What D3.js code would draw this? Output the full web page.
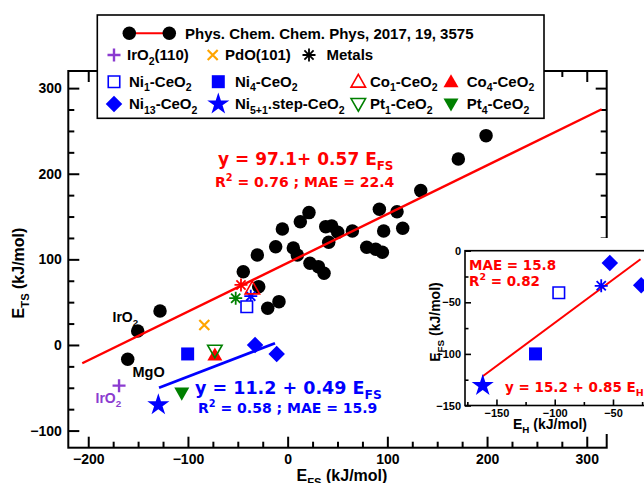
<!DOCTYPE html>
<html>
<head>
<meta charset="utf-8">
<title>E_TS vs E_FS</title>
<style>
body { margin: 0; background: #fff; }
svg { display: block; }
text { font-family: "Liberation Sans", Arial, sans-serif; font-weight: bold; }
text.eq { font-family: "DejaVu Sans", Verdana, sans-serif; }
</style>
<script src="https://d3js.org/d3.v7.min.js"></script>
</head>
<body>
<svg id="chart" width="644" height="483"></svg>
<script>
// ---- data: main plot (E_FS, E_TS in kJ/mol) ----
// PCCP 2017, 19, 3575 reference points
const refFs = [199, 171.2, 133.5, 92, 109.7, 115.4, 96.3, 64.9, 50.2, 44.2, 38.2, 41.2, 21.4, 12.7,
               -5.3, -12, 5.7, 9.7, 22.4, 30.8, 36.5, 79.3, 88.3, 95, -30.4, -44.5, -29, -8.7, -20,
               -128, -150.4, -160.4];
const refTs = [244.5, 217.3, 180.3, 158.5, 155.7, 136.3, 133.2, 133.2, 131.7, 139, 138.2, 120, 154.6, 144,
               135.5, 114.8, 113.3, 105.1, 95.4, 91.5, 83.8, 114.1, 111.8, 108.3, 105.1, 85.6, 68.1, 50.6, 42.9,
               39.7, 16.4, -16.7];

const iro2Fs = [-169.1],  iro2Ts = [-47.5];
const pdoFs = [-83.6],    pdoTs = [23.4];
const metalFs = [-37, -46.8, -52.1];
const metalTs = [57, 70.1, 54.6];
const metalColors = ["#0000ff", "#ff0000", "#008000"];
const ni1Fs = [-41],      ni1Ts = [44.7];
const ni4Fs = [-100.3],   ni4Ts = [-10.5];
const ni13Fs = [-32.7, -11], ni13Ts = [0, -10.5];
const ni51Fs = [-129.7],  ni51Ts = [-70];
const co1Fs = [-35.4],    co1Ts = [66];
const co4Fs = [-73],      co4Ts = [-11.7];
const pt1Fs = [-73],      pt1Ts = [-6.7];
const pt4Fs = [-106.2],   pt4Ts = [-56.4];

// fitted lines (end points)
const refFitFs = [-206, 315],  refFitTs = [-21.4, 275.3];
const blueFitFs = [-129, -12.7], blueFitTs = [-49.9, 2.0];

// ---- data: inset (E_H, E_FS) ----
const inStarH = [-161.8], inStarFs = [-130.8];
const inSqH = [-116.5],   inSqFs = [-100];
const inOpenH = [-96.5],  inOpenFs = [-40.7];
const inAstH = [-60.1],   inAstFs = [-34];
const inDiaH = [-52.7, -25.8], inDiaFs = [-12, -33.5];
const inFitH = [-161.8, -26.4], inFitFs = [-121.7, -8.3];

const xTicks = [-200, -100, 0, 100, 200, 300];
const yTicks = [-100, 0, 100, 200, 300];
const inXTicks = [-150, -100, -50];
const inYTicks = [-150, -100, -50, 0];

const RED = "#ff0000", BLUE = "#0000ff", GREEN = "#008000", PURPLE = "#8b3bd0", ORANGE = "#ffa500";

const svg = d3.select("#chart");

// ---------- helpers ----------
// text with _{sub} and ^{sup} parts
function rich(sel, x, y, str, size, color, cls) {
    const t = sel.append("text").attr("x", x).attr("y", y)
        .attr("font-size", size).attr("fill", color || "#000");
    if (cls) t.attr("class", cls);
    const re = /([_^])\{([^}]*)\}/g;
    let last = 0, m, shift = 0;
    const parts = [];
    while ((m = re.exec(str)) !== null) {
        if (m.index > last) parts.push([str.slice(last, m.index), 0]);
        parts.push([m[2], m[1] === "_" ? 1 : -1]);
        last = re.lastIndex;
    }
    if (last < str.length) parts.push([str.slice(last), 0]);
    parts.forEach(([s, k]) => {
        const target = k === 1 ? size * 0.3 : k === -1 ? -size * 0.4 : 0;
        t.append("tspan").attr("dy", target - shift)
            .attr("font-size", k ? size * 0.7 : size).text(s);
        shift = target;
    });
    return t;
}

function shapePath(shape, s) {
    const h = s / 2;
    switch (shape) {
        case "plus": return `M${-h},0H${h}M0,${-h}V${h}`;
        case "times": return `M${-h},${-h}L${h},${h}M${-h},${h}L${h},${-h}`;
        case "asterisk": {
            const d = h * 0.7071;
            return `M${-h},0H${h}M0,${-h}V${h}M${-d},${-d}L${d},${d}M${-d},${d}L${d},${-d}`;
        }
        case "square": return `M${-h},${-h}H${h}V${h}H${-h}Z`;
        case "diamond": return `M0,${-h}L${h},0L0,${h}L${-h},0Z`;
        case "triUp": return `M0,${-h}L${h},${h * 0.75}L${-h},${h * 0.75}Z`;
        case "triDown": return `M0,${h}L${h},${-h * 0.75}L${-h},${-h * 0.75}Z`;
        case "star": return d3.symbol(d3.symbolStar, s * s * 0.42)();
    }
}

const styles = {
    ref:   { shape: "dot", size: 13.5, fill: "#000" },
    iro2:  { shape: "plus", size: 13, stroke: PURPLE, sw: 2.4 },
    pdo:   { shape: "times", size: 10, stroke: ORANGE, sw: 2.2 },
    metal: { shape: "asterisk", size: 13, stroke: "#000", sw: 1.8 },
    ni1:   { shape: "square", size: 11.5, fill: "#fff", stroke: BLUE, sw: 1.6 },
    ni4:   { shape: "square", size: 13, fill: BLUE },
    ni13:  { shape: "diamond", size: 16.5, fill: BLUE },
    ni51:  { shape: "star", size: 19, fill: BLUE },
    co1:   { shape: "triUp", size: 14.5, fill: "none", stroke: RED, sw: 1.6 },
    co4:   { shape: "triUp", size: 15, fill: RED },
    pt1:   { shape: "triDown", size: 14.5, fill: "none", stroke: GREEN, sw: 1.6 },
    pt4:   { shape: "triDown", size: 15, fill: GREEN }
};

function mark(g, st, cx, cy, color) {
    if (st.shape === "dot") {
        g.append("circle").attr("cx", cx).attr("cy", cy).attr("r", st.size / 2).attr("fill", st.fill);
        return;
    }
    g.append("path").attr("transform", `translate(${cx},${cy})`)
        .attr("d", shapePath(st.shape, st.size))
        .attr("fill", st.fill || "none")
        .attr("stroke", color || st.stroke || "none")
        .attr("stroke-width", st.sw || 0);
}

const minorOf = (lo, hi, step, majors) => d3.range(lo, hi + 0.01, step).filter(v => !majors.includes(v));

// box frame with inward ticks (optionally mirrored on top/right)
function frame(g, xs, ys, xt, yt, xm, ym, o) {
    const [x0, x1] = xs.range(), [y0, y1] = ys.range();
    const defs = [
        [d3.axisBottom, xs, `translate(0,${y0})`, xt, xm, true],
        [d3.axisTop, xs, `translate(0,${y1})`, xt, xm, false],
        [d3.axisLeft, ys, `translate(${x0},0)`, yt, ym, true],
        [d3.axisRight, ys, `translate(${x1},0)`, yt, ym, false]
    ];
    defs.forEach(([fn, sc, tr, maj, mnr, lab]) => {
        if (!lab && !o.mirror) return;
        const a = g.append("g").attr("transform", tr).call(
            fn(sc).tickValues(maj).tickSize(-o.major).tickSizeOuter(0).tickPadding(o.pad)
                .tickFormat(lab ? d3.format("d") : ""));
        g.append("g").attr("transform", tr).call(
            fn(sc).tickValues(mnr).tickSize(-o.minor).tickSizeOuter(0).tickFormat(""));
        a.selectAll("text").attr("font-size", o.font).attr("fill", "#000")
            .attr("font-family", "'Liberation Sans', Arial, sans-serif").attr("font-weight", "bold");
    });
    g.selectAll(".domain").remove();
    g.selectAll(".tick line").attr("stroke", "#000").attr("stroke-width", o.sw);
    g.append("rect").attr("x", x0).attr("y", y1).attr("width", x1 - x0).attr("height", y0 - y1)
        .attr("fill", "none").attr("stroke", "#000").attr("stroke-width", o.sw);
}

// ---------- main plot ----------
const x = d3.scaleLinear([-220, 320], [68.3, 606.7]);
const y = d3.scaleLinear([-120, 320], [447.7, 71]);
const main = svg.append("g");

frame(main, x, y, xTicks, yTicks,
      minorOf(-200, 320, 25, xTicks), minorOf(-100, 320, 25, yTicks),
      { major: 11, minor: 6, pad: 6.5, font: 14, sw: 2, mirror: true });

rich(main, 342, 481, "E_{FS} (kJ/mol)", 16).attr("text-anchor", "middle");
rich(main, 0, 0, "E_{TS} (kJ/mol)", 16).attr("text-anchor", "middle")
    .attr("transform", "translate(24,273) rotate(-90)");

// reference dots
refFs.forEach((v, i) => mark(main, styles.ref, x(v), y(refTs[i])));

// fit lines
const line = d3.line().x(d => x(d[0])).y(d => y(d[1]));
main.append("path").attr("d", line(d3.zip(refFitFs, refFitTs)))
    .attr("stroke", RED).attr("stroke-width", 2.4).attr("fill", "none");
main.append("path").attr("d", line(d3.zip(blueFitFs, blueFitTs)))
    .attr("stroke", BLUE).attr("stroke-width", 2.8).attr("fill", "none");

// other series
const series = [
    [metalFs, metalTs, styles.metal, metalColors],
    [iro2Fs, iro2Ts, styles.iro2],
    [pdoFs, pdoTs, styles.pdo],
    [ni1Fs, ni1Ts, styles.ni1],
    [ni4Fs, ni4Ts, styles.ni4],
    [ni13Fs, ni13Ts, styles.ni13],
    [ni51Fs, ni51Ts, styles.ni51],
    [co4Fs, co4Ts, styles.co4],
    [pt1Fs, pt1Ts, styles.pt1],
    [co1Fs, co1Ts, styles.co1],
    [pt4Fs, pt4Ts, styles.pt4]
];
series.forEach(([xs, ys, st, cols]) =>
    xs.forEach((v, i) => mark(main, st, x(v), y(ys[i]), cols ? cols[i] : null)));

// point labels
rich(main, 112.5, 321.5, "IrO_{2}", 14);
rich(main, 132.5, 376.5, "MgO", 14.5);
rich(main, 95.5, 403, "IrO_{2}", 14, PURPLE);

// equations
rich(main, 218, 164.5, "y = 97.1+ 0.57 E_{FS}", 17, RED, "eq");
rich(main, 215, 186.5, "R^{2} = 0.76 ; MAE = 22.4", 14, RED, "eq");
rich(main, 195, 394, "y = 11.2 + 0.49 E_{FS}", 17.5, BLUE, "eq");
rich(main, 198, 412.5, "R^{2} = 0.58 ; MAE = 15.9", 14, BLUE, "eq");

// ---------- legend ----------
const leg = svg.append("g");
leg.append("rect").attr("x", 97.3).attr("y", 15).attr("width", 446.7).attr("height", 103.3)
    .attr("fill", "#fff").attr("stroke", "#000").attr("stroke-width", 1.6);
leg.append("line").attr("x1", 129.3).attr("x2", 169.3).attr("y1", 33.3).attr("y2", 33.3)
    .attr("stroke", RED).attr("stroke-width", 2);
mark(leg, styles.ref, 129.3, 33.3);
mark(leg, styles.ref, 169.3, 33.3);
rich(leg, 185, 38.5, "Phys. Chem. Chem. Phys, 2017, 19, 3575", 15);

const legendItems = [
    [styles.iro2, 114, 55, 127, "IrO_{2}(110)"],
    [styles.pdo, 212.7, 55, 225, "PdO(101)"],
    [styles.metal, 309, 55, 326.5, "Metals"],
    [styles.ni1, 114, 81.7, 129, "Ni_{1}-CeO_{2}"],
    [styles.ni4, 218.3, 81.7, 235, "Ni_{4}-CeO_{2}"],
    [styles.co1, 358.3, 81.7, 370, "Co_{1}-CeO_{2}"],
    [styles.co4, 451, 81.7, 466.7, "Co_{4}-CeO_{2}"],
    [styles.ni13, 114, 104, 129, "Ni_{13}-CeO_{2}"],
    [styles.ni51, 218.3, 104, 235, "Ni_{5+1}.step-CeO_{2}"],
    [styles.pt1, 358.3, 104, 370, "Pt_{1}-CeO_{2}"],
    [styles.pt4, 451, 104, 466.7, "Pt_{4}-CeO_{2}"]
];
legendItems.forEach(([st, mx, my, tx, label]) => {
    mark(leg, st, mx, my);
    rich(leg, tx, my + 5, label, 15);
});

// ---------- inset ----------
const ix = d3.scaleLinear([-177, -10], [465, 659.6]);
const iy = d3.scaleLinear([-150, 0], [405.5, 250.7]);
const ins = svg.append("g");
ins.append("rect").attr("x", 420).attr("y", 238).attr("width", 230).attr("height", 196).attr("fill", "#fff");
frame(ins, ix, iy, inXTicks, inYTicks,
      minorOf(-175, -10, 25, inXTicks), minorOf(-150, 0, 25, inYTicks),
      { major: 6, minor: 3.5, pad: 4, font: 11, sw: 1.6, mirror: false });

rich(ins, 550, 429, "E_{H} (kJ/mol)", 14).attr("text-anchor", "middle");
rich(ins, 0, 0, "E_{FS} (kJ/mol)", 14).attr("text-anchor", "middle")
    .attr("transform", "translate(440,322) rotate(-90)");

ins.append("path").attr("d", d3.line().x(d => ix(d[0])).y(d => iy(d[1]))(d3.zip(inFitH, inFitFs)))
    .attr("stroke", RED).attr("stroke-width", 2).attr("fill", "none");

const insetSeries = [
    [inOpenH, inOpenFs, styles.ni1],
    [inSqH, inSqFs, styles.ni4],
    [inAstH, inAstFs, styles.metal, [BLUE]],
    [inDiaH, inDiaFs, styles.ni13],
    [inStarH, inStarFs, styles.ni51]
];
insetSeries.forEach(([xs, ys, st, cols]) =>
    xs.forEach((v, i) => mark(ins, st, ix(v), iy(ys[i]), cols ? cols[i] : null)));

rich(ins, 469, 270, "MAE = 15.8", 13.5, RED, "eq");
rich(ins, 469, 285.5, "R^{2} = 0.82", 13.5, RED, "eq");
rich(ins, 505, 391.5, "y = 15.2 + 0.85 E_{H}", 13.5, RED, "eq");
</script>
</body>
</html>
